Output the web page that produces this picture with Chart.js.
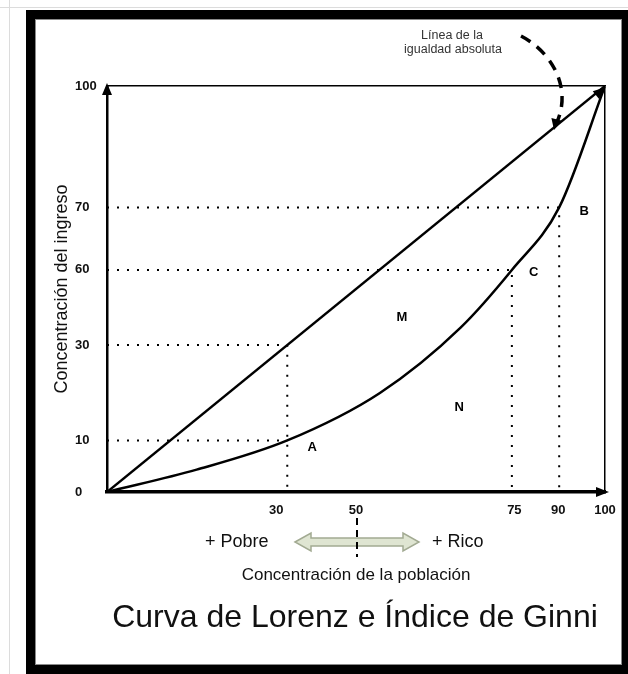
<!DOCTYPE html>
<html>
<head>
<meta charset="utf-8">
<script src="https://cdn.jsdelivr.net/npm/chart.js@4.4.0/dist/chart.umd.min.js"></script>
<style>
  html, body { margin: 0; padding: 0; background: #fff; }
  #wrap { width: 628px; height: 674px; position: relative; }
</style>
</head>
<body>
<div id="wrap"><canvas id="lorenz"></canvas></div>
<script>
// ejes esquemáticos: etiqueta y posición sobre el eje (0-100)
const xTickLabels = ['30', '50', '75', '90', '100'];
const xTickPos = [34, 50, 81.8, 90.6, 100];
const yTickLabels = ['0', '10', '30', '60', '70', '100'];
const yTickPos = [0, 12.7, 36.2, 54.7, 70.1, 100];

// línea de la igualdad absoluta
const equalityX = [0, 100];
const equalityY = [0, 100];

// curva de Lorenz
const lorenzX = [0, 18, 36.2, 54.8, 71, 81.3, 90.8, 100];
const lorenzY = [0, 5.5, 12.7, 24.4, 40.5, 54.7, 70.1, 100];

// puntos de las guías punteadas (A, diagonal 30, C, B)
const guideX = [36.2, 36.2, 81.3, 90.8];
const guideY = [12.7, 36.2, 54.7, 70.1];
const guideDrop = [false, true, true, true];

const FONT = '"Liberation Sans", Arial, Helvetica, sans-serif';

function toPoints(xs, ys) {
    return xs.map((v, i) => ({ x: v, y: ys[i] }));
}

const guideSets = guideX.map((gx, i) => {
    const pts = [{ x: 0, y: guideY[i] }, { x: gx, y: guideY[i] }];
    if (guideDrop[i]) pts.push({ x: gx, y: 0 });
    return {
        data: pts,
        borderColor: '#000',
        borderWidth: 2,
        borderDash: [2, 8],
        pointRadius: 0,
        tension: 0
    };
});

// marco negro y fondo
const framePlugin = {
    id: 'frame',
    beforeDraw(chart) {
        const c = chart.ctx;
        const w = chart.width, h = chart.height;
        c.save();
        c.fillStyle = '#fff';
        c.fillRect(0, 0, w, h);
        c.strokeStyle = '#dcdcdc';
        c.lineWidth = 1;
        c.beginPath();
        c.moveTo(0, 7.5); c.lineTo(w, 7.5);
        c.moveTo(9.5, 0); c.lineTo(9.5, h);
        c.stroke();
        c.fillStyle = '#000';
        c.fillRect(26, 10, w - 26, h - 10);
        c.fillStyle = '#fff';
        c.fillRect(35, 19, 587, 646);
        c.strokeStyle = '#8a8a8a';
        c.strokeRect(35.5, 19.5, 586, 645);
        c.restore();
    }
};

// flechas, letras y textos del esquema
const notesPlugin = {
    id: 'notes',
    afterDraw(chart) {
        const c = chart.ctx;
        const sx = chart.scales.x, sy = chart.scales.y;
        const px = v => sx.getPixelForValue(v);
        const py = v => sy.getPixelForValue(v);

        function head(tx, ty, ang, len, half) {
            c.save();
            c.translate(tx, ty);
            c.rotate(ang);
            c.beginPath();
            c.moveTo(0, 0);
            c.lineTo(-len, -half);
            c.lineTo(-len, half);
            c.closePath();
            c.fill();
            c.restore();
        }

        c.save();
        c.fillStyle = '#000';
        head(px(0), py(100) - 3, -Math.PI / 2, 12, 5);
        head(px(100) + 4, py(0), 0, 13, 5);
        head(px(100) + 1, py(100) + 1, Math.atan2(py(100) - py(0), px(100) - px(0)), 13, 5);

        // letras de las zonas
        c.font = 'bold 13px ' + FONT;
        c.textAlign = 'center';
        c.textBaseline = 'middle';
        [['M', 59.2, 43.1], ['N', 70.7, 20.9], ['A', 41.2, 11.1], ['C', 85.7, 54.2], ['B', 95.8, 69.0]]
            .forEach(l => c.fillText(l[0], px(l[1]), py(l[2])));

        // rótulo de la línea de igualdad
        c.fillStyle = '#333';
        c.font = '12.5px ' + FONT;
        c.fillText('Línea de la', 452, 36);
        c.fillText('igualdad absoluta', 453, 50);

        // flecha curva discontinua
        c.strokeStyle = '#000';
        c.lineWidth = 3.5;
        c.setLineDash([11, 8]);
        c.beginPath();
        c.moveTo(521, 36);
        c.bezierCurveTo(552, 52, 572, 88, 557, 122);
        c.stroke();
        c.setLineDash([]);
        c.fillStyle = '#000';
        head(554, 130, Math.PI / 2 + 0.25, 11, 5.5);

        // + Pobre / + Rico
        c.fillStyle = '#111';
        c.font = '18px ' + FONT;
        c.textAlign = 'left';
        c.fillText('+ Pobre', 205, 542);
        c.fillText('+ Rico', 432, 542);

        // doble flecha
        const ax0 = 295, ax1 = 419, ay = 542;
        c.beginPath();
        c.moveTo(ax0, ay);
        c.lineTo(ax0 + 16, ay - 9);
        c.lineTo(ax0 + 16, ay - 4);
        c.lineTo(ax1 - 16, ay - 4);
        c.lineTo(ax1 - 16, ay - 9);
        c.lineTo(ax1, ay);
        c.lineTo(ax1 - 16, ay + 9);
        c.lineTo(ax1 - 16, ay + 4);
        c.lineTo(ax0 + 16, ay + 4);
        c.lineTo(ax0 + 16, ay + 9);
        c.closePath();
        c.fillStyle = '#dfe5d2';
        c.fill();
        c.strokeStyle = '#a2aa92';
        c.lineWidth = 1.5;
        c.stroke();

        // marca del 50
        c.strokeStyle = '#000';
        c.lineWidth = 2;
        c.setLineDash([7, 5]);
        c.beginPath();
        c.moveTo(px(50) + 1, 518);
        c.lineTo(px(50) + 1, 557);
        c.stroke();
        c.setLineDash([]);

        // título
        c.fillStyle = '#111';
        c.font = '32px ' + FONT;
        c.textAlign = 'center';
        c.fillText('Curva de Lorenz e Índice de Ginni', 355, 618);
        c.restore();
    }
};

new Chart(document.getElementById('lorenz'), {
    type: 'line',
    data: {
        datasets: [
            {
                data: toPoints(equalityX, equalityY),
                borderColor: '#000',
                borderWidth: 2.5,
                pointRadius: 0
            },
            {
                data: toPoints(lorenzX, lorenzY),
                borderColor: '#000',
                borderWidth: 2.5,
                pointRadius: 0,
                cubicInterpolationMode: 'monotone'
            },
            ...guideSets
        ]
    },
    options: {
        responsive: true,
        maintainAspectRatio: false,
        animation: false,
        events: [],
        layout: { padding: { top: 86, right: 23, bottom: 0, left: 75 } },
        plugins: {
            legend: { display: false },
            tooltip: { enabled: false }
        },
        scales: {
            x: {
                type: 'linear',
                position: 'bottom',
                min: 0,
                max: 100,
                grid: { display: false },
                border: { display: true, color: '#000', width: 3.5 },
                afterBuildTicks: s => { s.ticks = xTickPos.map(v => ({ value: v })); },
                afterFit: s => { s.height = 182; },
                ticks: {
                    autoSkip: false,
                    maxRotation: 0,
                    padding: 3,
                    color: '#111',
                    font: { family: FONT, size: 13, weight: 'bold' },
                    callback: (v, i) => xTickLabels[i]
                },
                title: {
                    display: true,
                    text: 'Concentración de la población',
                    color: '#111',
                    font: { family: FONT, size: 17 },
                    padding: { top: 0, bottom: 88 }
                }
            },
            y: {
                type: 'linear',
                position: 'left',
                min: 0,
                max: 100,
                grid: { display: false },
                border: { display: true, color: '#000', width: 2.5 },
                afterBuildTicks: s => { s.ticks = yTickPos.map(v => ({ value: v })); },
                afterFit: s => { s.width = 32; },
                ticks: {
                    autoSkip: false,
                    crossAlign: 'far',
                    color: '#111',
                    font: { family: FONT, size: 13, weight: 'bold' },
                    callback: (v, i) => yTickLabels[i]
                },
                title: {
                    display: true,
                    text: 'Concentración del ingreso',
                    color: '#111',
                    font: { family: FONT, size: 18 },
                    padding: { top: -23.5, bottom: 0 }
                }
            },
            x2: {
                type: 'linear',
                position: 'top',
                grid: { display: false },
                border: { display: true, color: '#000', width: 1.5 },
                ticks: { display: false },
                afterFit: s => { s.height = 0; }
            },
            y2: {
                type: 'linear',
                position: 'right',
                grid: { display: false },
                border: { display: true, color: '#000', width: 1.5 },
                ticks: { display: false },
                afterFit: s => { s.width = 0; }
            }
        }
    },
    plugins: [framePlugin, notesPlugin]
});
</script>
</body>
</html>
